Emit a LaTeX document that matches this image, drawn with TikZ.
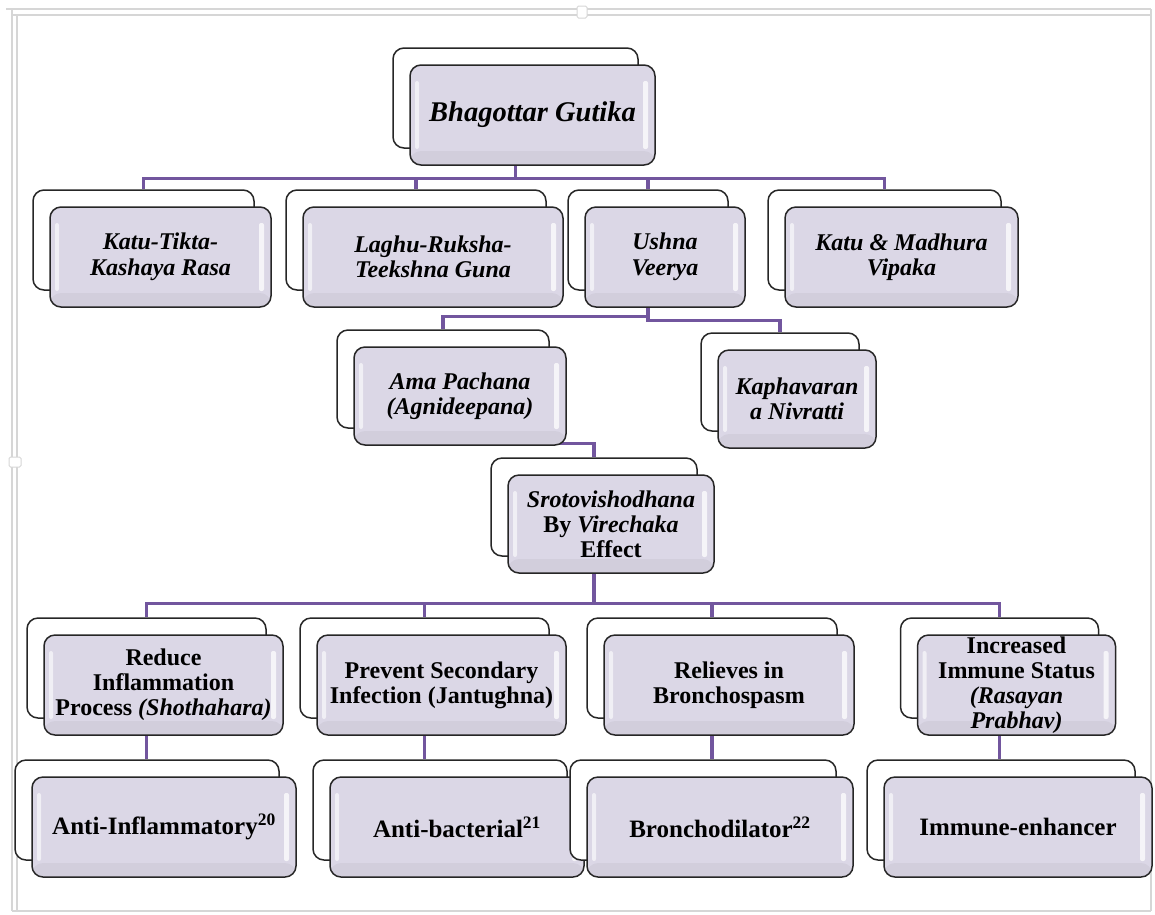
\documentclass[tikz,border=0pt]{standalone}
\usepackage{fontspec}
\setmainfont{Liberation Serif}
\usetikzlibrary{backgrounds}
\definecolor{conn}{RGB}{114,86,158}
\definecolor{lav}{RGB}{219,215,230}
\definecolor{framegray}{RGB}{214,214,214}
\tikzset{
  backbox/.style={draw=black!85, line width=1.5pt, rounded corners=11pt, fill=white, inner sep=0pt},
  frontbox/.style={draw=black!85, line width=1.5pt, rounded corners=11pt, fill=lav,
    align=center, inner sep=0pt,
    path picture={
      \fill[white,opacity=.6,rounded corners=2pt] ([xshift=5pt,yshift=-16pt]path picture bounding box.north west) rectangle ([xshift=9pt,yshift=16pt]path picture bounding box.south west);
      \fill[white,opacity=.75,rounded corners=2pt] ([xshift=-12pt,yshift=-16pt]path picture bounding box.north east) rectangle ([xshift=-7pt,yshift=16pt]path picture bounding box.south east);
      \fill[black,opacity=.04] ([yshift=14pt]path picture bounding box.south west) rectangle (path picture bounding box.south east);
    }},
  link/.style={draw=conn, line width=3.2pt},
  t1/.style={font=\fontsize{28.5}{32}\selectfont\bfseries\itshape},
  t2/.style={font=\fontsize{24}{25.5}\selectfont\bfseries\itshape},
  t3/.style={font=\fontsize{24}{25}\selectfont\bfseries},
  t4/.style={font=\fontsize{25}{26}\selectfont\bfseries},
}
% #1 name, #2 cx, #3 cy, #4 width, #5 height, #6 text style, #7 text
\newcommand\pairbox[7]{%
  \node[backbox, minimum width=#4pt, minimum height=#5pt] (#1b) at ({#2-17},{#3-17}) {};
  \node[frontbox, #6, minimum width=#4pt, minimum height=#5pt] (#1) at (#2,#3) {#7};
}
\begin{document}
\begin{tikzpicture}[x=1pt,y=-1pt]
\useasboundingbox (0,0) rectangle (1155,914);
% selection frame
\draw[framegray, line width=1.2pt] (6,9) -- (1151,9) (12,15) -- (1151,15);
\draw[framegray, line width=1.2pt] (12,9) -- (12,911) (17,15) -- (17,911);
\draw[framegray, line width=1.2pt] (1151,9) -- (1151,911) (12,911) -- (1151,911);
\fill[white, draw=framegray, line width=1pt, rounded corners=1.5pt] (577,6) rectangle (587,18);
\fill[white, draw=framegray, line width=1pt, rounded corners=1.5pt] (9,457) rectangle (21,467);

% boxes
\pairbox{top}{532.5}{115}{245}{100}{t1}{Bhagottar Gutika}

\pairbox{ka}{160.5}{257}{221}{100}{t2}{Katu-Tikta-\\Kashaya Rasa}
\pairbox{kb}{433}{257}{260}{100}{t2}{Laghu-Ruksha-\\Teekshna Guna}
\pairbox{kc}{665}{257}{160}{100}{t2}{Ushna\\Veerya}
\pairbox{kd}{901.5}{257}{233}{100}{t2}{Katu \& Madhura\\Vipaka}

\pairbox{ama}{460}{396}{212}{98}{t2}{Ama Pachana\\(Agnideepana)}
\pairbox{kaph}{797}{399}{158}{98}{t2}{Kaphavaran\\a Nivratti}

\pairbox{sro}{611}{524}{206}{98}{t3}{\textit{Srotovishodhana}\\By \textit{Virechaka}\\Effect}

\pairbox{ra}{163.5}{685}{239}{100}{t3}{Reduce\\Inflammation\\Process \textit{(Shothahara)}}
\pairbox{rb}{441.5}{685}{249}{100}{t3}{Prevent Secondary\\Infection (Jantughna)}
\pairbox{rc}{729}{685}{250}{100}{t3}{Relieves in\\Bronchospasm}
\pairbox{rd}{1016.5}{685}{198}{100}{t3}{Increased\\Immune Status\\\textit{(Rasayan}\\\textit{Prabhav)}}

\pairbox{sa}{164}{827}{264}{100}{t4}{Anti-Inflammatory\textsuperscript{20}}
\pairbox{sb}{457}{827}{254}{100}{t4}{Anti-bacterial\textsuperscript{21}}
\pairbox{sc}{720}{827}{266}{100}{t4}{Bronchodilator\textsuperscript{22}}
\pairbox{sd}{1018}{827}{268}{100}{t4}{Immune-enhancer}

% connectors
\begin{pgfonlayer}{background}
\foreach \n in {ka,kb,kc,kd}
  \draw[link] (topb.south) -- ++(0,30) -| (\n b.north);
\draw[link] (kcb.south) -- ++(0,26) -| (amab.north);
\draw[link] (kcb.south) -- ++(0,30) -| (kaphb.north);
\draw[link] (amab.south) -- ++(0,15) -| (srob.north);
\foreach \n in {ra,rb,rc,rd}
  \draw[link] (srob.south) -- ++(0,47) -| (\n b.north);
\draw[link] (rab.south) -- (rab.south |- sab.north);
\draw[link] (rbb.south) -- (rbb.south |- sbb.north);
\draw[link] (rcb.south) -- (rcb.south |- scb.north);
\draw[link] (rdb.south) -- (rdb.south |- sdb.north);
\end{pgfonlayer}
\end{tikzpicture}
\end{document}
